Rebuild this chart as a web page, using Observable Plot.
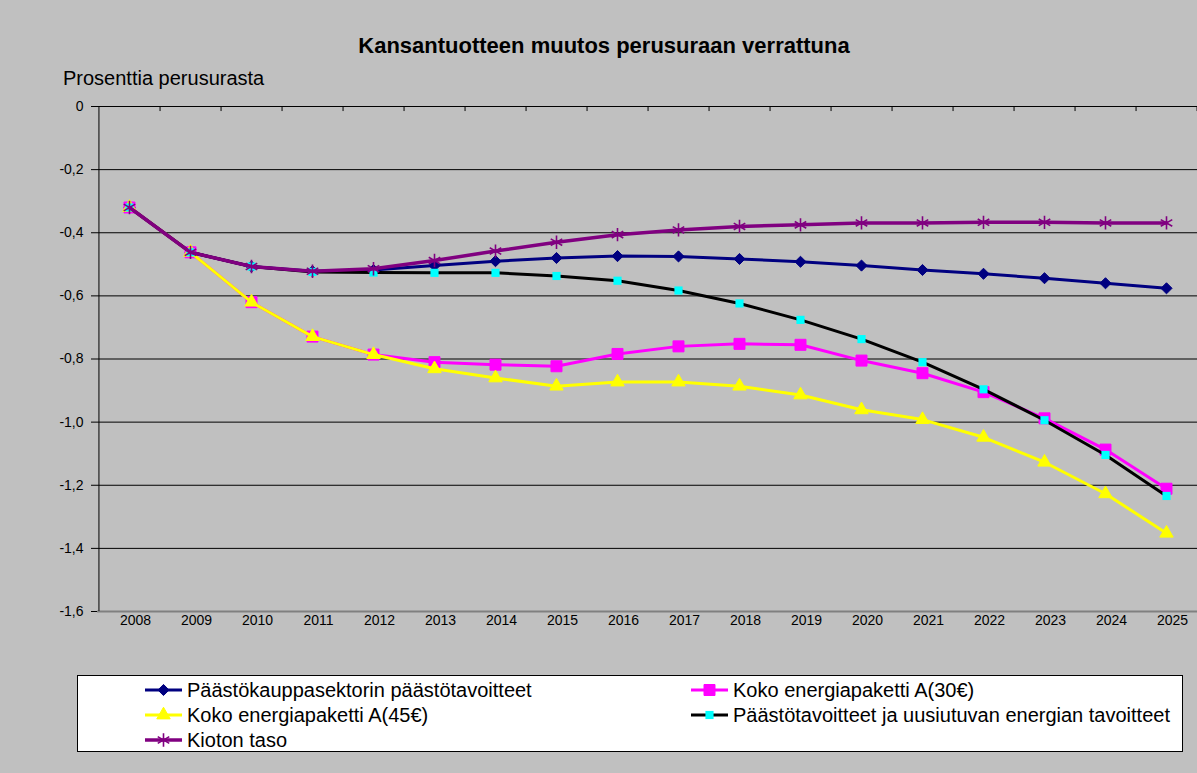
<!DOCTYPE html>
<html>
<head>
<meta charset="utf-8">
<script src="https://cdn.jsdelivr.net/npm/d3@7"></script>
<script src="https://cdn.jsdelivr.net/npm/@observablehq/plot@0.6"></script>
<style>
  html, body { margin: 0; padding: 0; background: #c0c0c0; }
  #chart { width: 1197px; height: 773px; overflow: hidden; }
</style>
</head>
<body>
<div id="chart"></div>
<script>
// ---- Data ----
const years = [2008, 2009, 2010, 2011, 2012, 2013, 2014, 2015, 2016, 2017, 2018, 2019, 2020, 2021, 2022, 2023, 2024, 2025];
const yTicks = [0, -0.2, -0.4, -0.6, -0.8, -1, -1.2, -1.4, -1.6];

const seriesNames = [
  "Päästökauppasektorin päästötavoitteet",
  "Koko energiapaketti A(30€)",
  "Koko energiapaketti A(45€)",
  "Päästötavoitteet ja uusiutuvan energian tavoitteet",
  "Kioton taso"
];
const paastokauppa = [-0.32, -0.462, -0.507, -0.522, -0.518, -0.504, -0.490, -0.480, -0.474, -0.475, -0.483, -0.492, -0.504, -0.518, -0.530, -0.544, -0.560, -0.576];
const paketti30 = [-0.32, -0.462, -0.620, -0.729, -0.786, -0.810, -0.818, -0.823, -0.784, -0.760, -0.752, -0.755, -0.805, -0.845, -0.905, -0.988, -1.087, -1.211];
const paketti45 = [-0.32, -0.462, -0.620, -0.729, -0.786, -0.831, -0.860, -0.886, -0.873, -0.873, -0.886, -0.914, -0.961, -0.992, -1.048, -1.127, -1.227, -1.352];
const uusiutuva = [-0.32, -0.462, -0.507, -0.524, -0.526, -0.527, -0.527, -0.537, -0.552, -0.583, -0.624, -0.676, -0.737, -0.810, -0.896, -0.994, -1.104, -1.234];
const kioto = [-0.32, -0.462, -0.507, -0.522, -0.514, -0.488, -0.458, -0.430, -0.406, -0.391, -0.380, -0.375, -0.369, -0.369, -0.367, -0.367, -0.369, -0.369];

// ---- Styles ----
const styles = [
  {line: "#000080", lw: 3, symbol: "diamond2", fill: "#000080", stroke: "#000080", r: 5, sw: 1},
  {line: "#ff00ff", lw: 3, symbol: "square", fill: "#ff00ff", stroke: "#ff00ff", r: 6.2, sw: 1},
  {line: "#ffff00", lw: 3, symbol: "triangle", fill: "#ffff00", stroke: "#ffff00", r: 5, sw: 1},
  {line: "#000000", lw: 3, symbol: "square", fill: "#00ffff", stroke: "none", r: 4.6, sw: 0},
  {line: "#800080", lw: 3.5, symbol: "asterisk", fill: "none", stroke: "#800080", r: 6.3, sw: 1.6}
];
const seriesValues = [paastokauppa, paketti30, paketti45, uusiutuva, kioto];
const tables = seriesValues.map((vals, s) => years.map((year, i) => ({year, value: vals[i], series: seriesNames[s]})));

const W = 1197, H = 773;
const ML = 97, MR = 0, MT = 106, MB = 162;
const step = (W - ML - MR) / years.length;
const FONT = "'Liberation Sans', Arial, Helvetica, sans-serif";
const fmt = d => d === 0 ? "0" : d.toFixed(1).replace(".", ",");

const seriesMarks = [];
tables.forEach((t, s) => {
  const st = styles[s];
  seriesMarks.push(Plot.line(t, {x: "year", y: "value", stroke: st.line, strokeWidth: st.lw, strokeLinejoin: "round"}));
  seriesMarks.push(Plot.dot(t, {x: "year", y: "value", symbol: () => st.symbol, r: st.r, fill: st.fill, stroke: st.stroke, strokeWidth: st.sw}));
});

const chart = Plot.plot({
  width: W, height: H,
  marginLeft: ML, marginRight: MR, marginTop: MT, marginBottom: MB,
  style: {background: "transparent", fontFamily: FONT, fontSize: "14px", color: "black", overflow: "visible"},
  x: {type: "point", domain: years, padding: 0.5, axis: null},
  y: {domain: [-1.6, 0], axis: null},
  symbol: {type: "identity"},
  marks: [
    Plot.gridY(yTicks.filter(d => d !== 0 && d !== -1.6), {stroke: "black", strokeOpacity: 1, strokeWidth: 1}),
    Plot.ruleY([-1.6], {stroke: "#808080", strokeWidth: 2}),
    Plot.ruleY([0], {stroke: "black", strokeWidth: 1}),
    Plot.ruleX(years, {y1: 0, y2: -0.016, dx: step / 2, stroke: "black"}),
    Plot.ruleX([years[0]], {y1: -1.6, y2: 0, dx: -step / 2, stroke: "black"}),
    Plot.axisY(yTicks, {tickSize: 6, tickPadding: 8, tickFormat: fmt, label: null, fontSize: 14}),
    Plot.axisX(years, {anchor: "bottom", tickSize: 0, tickPadding: 4, dx: 6, label: null, fontSize: 14, tickFormat: d => String(d)}),
    ...seriesMarks
  ]
});

document.getElementById("chart").appendChild(chart);

// ---- Title, axis label, legend (appended to the same SVG) ----
const svg = d3.select(chart);
svg.append("text")
  .attr("x", 604).attr("y", 53)
  .attr("text-anchor", "middle")
  .attr("font-family", FONT).attr("font-weight", "bold").attr("font-size", 22)
  .attr("fill", "black")
  .text("Kansantuotteen muutos perusuraan verrattuna");
svg.append("text")
  .attr("x", 63).attr("y", 85)
  .attr("text-anchor", "start")
  .attr("font-family", FONT).attr("font-size", 20)
  .attr("fill", "black")
  .text("Prosenttia perusurasta");

const lg = svg.append("g").attr("transform", "translate(77,675)");
lg.append("rect").attr("x", 0.5).attr("y", 0.5).attr("width", 1105).attr("height", 76)
  .attr("fill", "white").attr("stroke", "black").attr("stroke-width", 1);
const legendPos = [
  {col: 0, row: 0}, {col: 1, row: 0}, {col: 0, row: 1}, {col: 1, row: 1}, {col: 0, row: 2}
];
const colX = [68, 614];
const symMap = {diamond2: d3.symbolDiamond2, square: d3.symbolSquare, triangle: d3.symbolTriangle, asterisk: d3.symbolAsterisk};
seriesNames.forEach((name, s) => {
  const st = styles[s];
  const p = legendPos[s];
  const x0 = colX[p.col], y0 = 15 + p.row * 25;
  const g = lg.append("g");
  g.append("line").attr("x1", x0).attr("x2", x0 + 37).attr("y1", y0).attr("y2", y0)
    .attr("stroke", st.line).attr("stroke-width", st.lw);
  g.append("path")
    .attr("transform", `translate(${x0 + 18.5},${y0})`)
    .attr("d", d3.symbol(symMap[st.symbol], Math.PI * st.r * st.r)())
    .attr("fill", st.fill).attr("stroke", st.stroke).attr("stroke-width", st.sw);
  g.append("text").attr("x", x0 + 42).attr("y", y0 + 7)
    .attr("text-anchor", "start")
    .attr("font-family", FONT).attr("font-size", 20).attr("fill", "black")
    .text(name);
});
</script>
</body>
</html>
